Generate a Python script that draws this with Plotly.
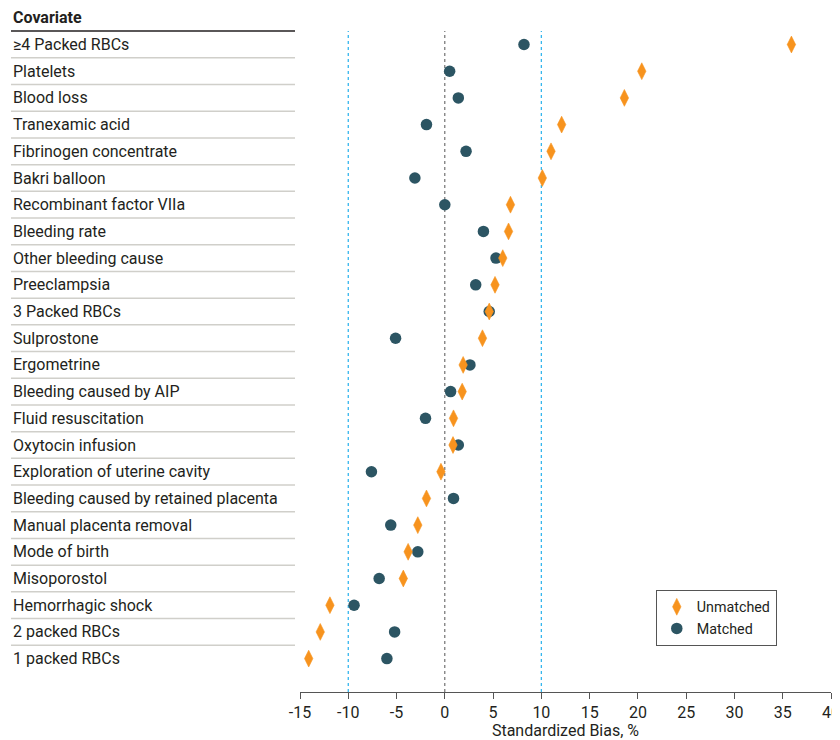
import plotly.graph_objects as go

covariates = [
    "≥4 Packed RBCs", "Platelets", "Blood loss", "Tranexamic acid",
    "Fibrinogen concentrate", "Bakri balloon", "Recombinant factor VIIa",
    "Bleeding rate", "Other bleeding cause", "Preeclampsia", "3 Packed RBCs",
    "Sulprostone", "Ergometrine", "Bleeding caused by AIP",
    "Fluid resuscitation", "Oxytocin infusion", "Exploration of uterine cavity",
    "Bleeding caused by retained placenta", "Manual placenta removal",
    "Mode of birth", "Misoporostol", "Hemorrhagic shock", "2 packed RBCs",
    "1 packed RBCs",
]
unmatched = [35.9, 20.4, 18.6, 12.1, 11.0, 10.1, 6.8, 6.6, 6.0, 5.2, 4.6, 3.9,
             1.9, 1.8, 0.9, 0.85, -0.4, -1.9, -2.8, -3.8, -4.3, -11.9, -12.9, -14.1]
matched = [8.2, 0.5, 1.4, -1.9, 2.2, -3.1, 0.0, 4.0, 5.3, 3.2, 4.6, -5.1,
           2.6, 0.6, -2.0, 1.4, -7.6, 0.9, -5.6, -2.8, -6.8, -9.4, -5.2, -6.0]
x_ticks = [-15, -10, -5, 0, 5, 10, 15, 20, 25, 30, 35, 40]
ref_lines = [-10, 0, 10]

ORANGE = "#F7931E"
TEAL = "#2C5563"
TXT = "#231F20"
FONT = "Roboto"

rows = list(range(len(covariates)))

fig = go.Figure()
fig.add_trace(go.Scatter(
    x=matched, y=rows, mode="markers", name="Matched", legendrank=2,
    marker=dict(symbol="circle", size=11.5, color=TEAL, line=dict(width=0)),
    cliponaxis=False,
))
fig.add_trace(go.Scatter(
    x=unmatched, y=rows, mode="markers", name="Unmatched", legendrank=1,
    marker=dict(symbol="diamond-tall", size=12, color=ORANGE,
                line=dict(width=0.6, color=ORANGE)),
    cliponaxis=False,
))

shapes = []
for v in ref_lines:
    shapes.append(dict(
        type="line", xref="x", yref="paper", x0=v, x1=v, y0=0, y1=1,
        line=dict(color="#555555" if v == 0 else "#35B6EE",
                  width=1 if v == 0 else 1.3, dash="dot"),
        layer="below",
    ))
LX0, LX1 = -0.5443, -0.0094
shapes.append(dict(type="line", xref="paper", yref="paper", x0=LX0, x1=LX1,
                   y0=1, y1=1, line=dict(color="#231F20", width=1.5)))
for i in rows[:-1]:
    shapes.append(dict(type="line", xref="paper", yref="y", x0=LX0, x1=LX1,
                       y0=i + 0.5, y1=i + 0.5,
                       line=dict(color="#D0CFCA", width=1.5)))

annotations = [dict(text="<b>Covariate</b>", xref="paper", yref="paper", x=LX0,
                    y=1.0197, xanchor="left", yanchor="middle", showarrow=False,
                    font=dict(family=FONT, size=16, color=TXT))]
for i, name in zip(rows, covariates):
    annotations.append(dict(text=name, xref="paper", yref="y", x=LX0, y=i,
                            xanchor="left", yanchor="middle", showarrow=False,
                            font=dict(family=FONT, size=16, color=TXT)))

fig.update_layout(
    width=832, height=732,
    margin=dict(l=292, r=9, t=23, b=48),
    plot_bgcolor="white", paper_bgcolor="white",
    font=dict(family=FONT, size=16, color=TXT),
    shapes=shapes, annotations=annotations,
    showlegend=True,
    legend=dict(x=0.67, y=0.1543, xanchor="left", yanchor="top",
                bordercolor="#555555", borderwidth=1, bgcolor="white",
                font=dict(family=FONT, size=14.3, color=TXT),
                tracegroupgap=0),
    xaxis=dict(range=[-15, 40], tickvals=x_ticks, automargin=False,
               ticktext=[str(t) for t in x_ticks], showgrid=False,
               zeroline=False, showline=True, linecolor="#555555",
               linewidth=1, ticks="outside", ticklen=6, tickcolor="#555555",
               tickfont=dict(family=FONT, size=16, color=TXT),
               title=dict(text="Standardized Bias, %", standoff=6,
                          font=dict(family=FONT, size=16, color=TXT))),
    yaxis=dict(range=[24.25, -0.506], visible=False, showgrid=False,
               zeroline=False, automargin=False),
)

fig.write_html("out.html")
